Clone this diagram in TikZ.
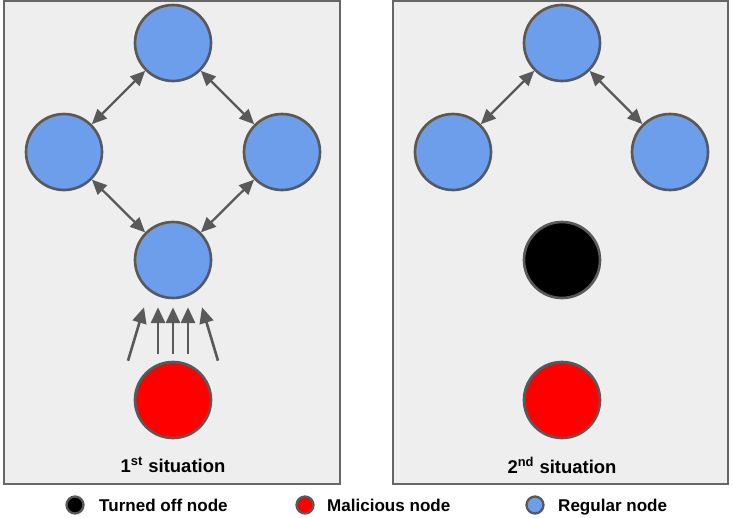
\documentclass[tikz,border=0pt]{standalone}
\usepackage{fontspec}
\setmainfont{Liberation Sans}
\usetikzlibrary{arrows.meta,positioning,calc}
\definecolor{nodeblue}{HTML}{6D9EEB}
\definecolor{nodered}{HTML}{FF0000}
\definecolor{edgegray}{HTML}{595959}
\definecolor{panelbg}{HTML}{EEEEEE}
\definecolor{panelline}{HTML}{666666}

\begin{document}
\begin{tikzpicture}[x=0.02cm, y=-0.02cm,
    peer/.style={circle, draw=edgegray, line width=1.5pt, minimum size=1.52cm, inner sep=0pt},
    regular/.style={peer, fill=nodeblue},
    malicious/.style={peer, fill=nodered},
    turnedoff/.style={peer, fill=black},
    keydot/.style={circle, draw=edgegray, line width=1.3pt, minimum size=0.34cm, inner sep=0pt},
    link/.style={{Triangle[length=8.5pt,width=7.5pt]}-{Triangle[length=8.5pt,width=7.5pt]}, edgegray, line width=1.3pt},
    flood/.style={-{Triangle[length=9pt,width=8pt]}, edgegray, line width=1.5pt},
    panel/.style={fill=panelbg, draw=panelline, line width=0.9pt},
    caption/.style={font=\fontsize{10.5}{12}\selectfont\bfseries},
    keytext/.style={font=\fontsize{9.7}{12}\selectfont\bfseries, anchor=base west}]
  \useasboundingbox (0,0) rectangle (733,517);

  % two panels
  \draw[panel] (4,1) rectangle (340,484);
  \draw[panel] (393,1) rectangle (728,484);

  % 1st situation
  \node[regular] (top1) at (173,43) {};
  \node[regular] (left1) at (64,152) {};
  \node[regular] (right1) at (282,152) {};
  \node[regular] (bot1) at (173,260) {};
  \node[malicious] (mal1) at (173,400) {};
  \draw[link] (top1) -- (left1);
  \draw[link] (top1) -- (right1);
  \draw[link] (left1) -- (bot1);
  \draw[link] (right1) -- (bot1);
  \foreach \i/\tx/\ty/\hx in {1/-45/0/-29, 2/-15/-7/-15, 3/0/-7/0, 4/15/-7/15, 5/45/0/29} {
    \coordinate (tail\i) at ($(mal1.north)+(\tx,\ty)$);
    \coordinate (tip\i) at ($(bot1.south)+(\hx,8)$);
    \draw[flood] (tail\i) -- (tip\i);
  }
  \node[caption] (cap1) at (173,465) {1\textsuperscript{st} situation};

  % 2nd situation
  \node[regular] (top2) at (562,43) {};
  \node[regular] (left2) at (453,152) {};
  \node[regular] (right2) at (670,152) {};
  \node[turnedoff] (off2) at (562,260) {};
  \node[malicious] (mal2) at (562,400) {};
  \draw[link] (top2) -- (left2);
  \draw[link] (top2) -- (right2);
  \node[caption] (cap2) at (562,465) {2\textsuperscript{nd} situation};

  % legend
  \node[keydot, fill=black] (keyoff) at (75,505) {};
  \node[keytext] (txtoff) at (93,511) {Turned off node};
  \node[keydot, fill=nodered] (keymal) at (305,505) {};
  \node[keytext] (txtmal) at (321,511) {Malicious node};
  \node[keydot, fill=nodeblue] (keyreg) at (535,505) {};
  \node[keytext] (txtreg) at (552,511) {Regular node};
\end{tikzpicture}
\end{document}
